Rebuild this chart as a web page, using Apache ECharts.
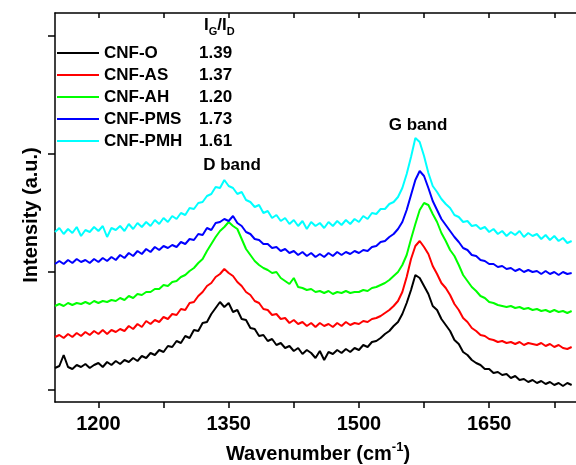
<!DOCTYPE html>
<html>
<head>
<meta charset="utf-8">
<script src="https://cdn.jsdelivr.net/npm/echarts@6/dist/echarts.min.js"></script>
<style>html,body{margin:0;padding:0;background:#fff;}#chart{width:576px;height:465px;}</style>
</head>
<body>
<div id="chart"></div>
<script>
const wavenumber = [
1150,1155,1160,1165,1170,1175,1180,1185,1190,1195,
1200,1205,1210,1215,1220,1225,1230,1235,1240,1245,
1250,1255,1260,1265,1270,1275,1280,1285,1290,1295,
1300,1305,1310,1315,1320,1325,1330,1335,1340,1345,
1350,1355,1360,1365,1370,1375,1380,1385,1390,1395,
1400,1405,1410,1415,1420,1425,1430,1435,1440,1445,
1450,1455,1460,1465,1470,1475,1480,1485,1490,1495,
1500,1505,1510,1515,1520,1525,1530,1535,1540,1545,
1550,1555,1560,1565,1570,1575,1580,1585,1590,1595,
1600,1605,1610,1615,1620,1625,1630,1635,1640,1645,
1650,1655,1660,1665,1670,1675,1680,1685,1690,1695,
1700,1705,1710,1715,1720,1725,1730,1735,1740,1745];

const cnfO = [
34,36,47,35,33,37,35,38,34,37,
39,35,40,37,41,38,42,40,44,41,
46,44,49,47,52,50,56,55,61,59,
66,64,72,71,79,80,88,94,100,95,
99,90,92,83,82,74,73,66,67,61,
63,57,59,54,56,51,54,48,52,49,
44,51,42,50,48,52,49,53,50,54,
52,57,55,60,61,64,68,71,76,80,
88,99,112,127,124,116,108,96,92,83,
77,71,62,58,50,47,42,39,37,33,
33,29,30,27,28,24,26,22,23,20,
22,19,21,18,20,17,19,16,19,17];

const cnfAS = [
65,67,64,68,65,69,66,70,67,71,
68,72,68,72,70,73,71,76,73,78,
75,81,78,82,80,85,83,88,87,93,
92,99,100,106,110,116,119,125,128,133,
129,126,120,116,110,107,101,99,93,92,
87,88,83,84,79,82,78,80,76,79,
75,79,76,78,75,79,76,80,77,79,
78,81,80,83,84,86,89,92,96,101,
110,125,143,156,161,155,148,136,128,119,
114,107,98,92,84,80,74,71,67,66,
63,62,60,61,59,60,58,60,57,59,
58,57,59,56,58,55,57,54,53,55];

const cnfAH = [
96,98,96,99,97,99,98,100,98,101,
99,101,100,102,101,104,102,106,104,108,
107,110,110,113,113,117,116,120,121,125,
127,131,134,139,143,151,158,165,171,175,
180,176,173,163,153,147,141,137,134,132,
129,130,124,121,118,124,115,114,112,113,
110,111,109,111,108,110,109,111,109,110,
110,112,111,114,115,117,119,122,126,130,
137,147,163,178,192,199,197,188,180,169,
161,152,146,137,127,121,115,111,106,104,
100,99,97,96,95,96,94,95,93,94,
92,93,91,92,90,92,90,91,89,91];

const cnfPMS = [
138,141,138,142,139,143,140,142,139,143,
140,144,141,145,142,147,144,149,146,151,
148,153,150,155,152,156,154,157,155,160,
158,163,162,168,167,174,172,179,180,183,
181,186,179,176,170,168,163,162,158,158,
154,155,151,153,149,151,147,150,146,149,
145,148,145,149,146,150,147,150,148,151,
149,152,151,155,156,160,161,165,168,173,
180,192,207,222,231,226,214,201,192,183,
177,171,165,160,154,152,147,146,142,141,
138,138,135,136,133,134,131,133,130,132,
130,131,128,131,128,130,127,130,128,129];

const cnfPMH = [
170,174,168,173,169,175,166,172,170,175,
171,176,165,174,172,176,171,178,173,179,
175,180,176,182,178,184,180,186,183,189,
187,194,193,199,200,206,208,215,214,222,
216,214,208,210,202,200,195,197,189,191,
184,187,181,184,178,182,176,181,173,180,
176,179,174,180,176,181,177,182,178,183,
180,186,183,189,188,193,193,198,200,205,
214,228,245,264,260,246,229,216,210,203,
198,194,187,185,180,181,176,177,173,175,
170,173,168,171,166,170,167,171,165,169,
166,168,163,167,162,166,161,164,159,161];

const seriesNames = ['CNF-O','CNF-AS','CNF-AH','CNF-PMS','CNF-PMH'];
const ratioIGID = ['1.39','1.37','1.20','1.73','1.61'];
const seriesColors = ['#000000','#ff0000','#00ff00','#0000ff','#00ffff'];
const seriesValues = [cnfO, cnfAS, cnfAH, cnfPMS, cnfPMH];
const xTickValues = [1200,1275,1350,1425,1500,1575,1650,1725];
const xLabelValues = [1200,1350,1500,1650];
const yTickValues = [12,130,248,366];

const FONT = 'Liberation Sans, Arial, Helvetica, sans-serif';

const chart = echarts.init(document.getElementById('chart'), null, {renderer:'canvas'});

const series = seriesValues.map((vals, i) => ({
  name: seriesNames[i],
  type: 'line',
  xAxisIndex: 0,
  yAxisIndex: 0,
  showSymbol: false,
  symbol: 'none',
  data: wavenumber.map((w, k) => [w, vals[k]]),
  lineStyle: {color: seriesColors[i], width: 2},
  itemStyle: {color: seriesColors[i]},
  z: 2 + i
}));

const graphics = [];
seriesNames.forEach((n, i) => {
  const y = 53 + 22 * i;
  graphics.push({type:'line', shape:{x1:57, y1:y, x2:99, y2:y}, style:{stroke:seriesColors[i], lineWidth:2}, z:10});
  graphics.push({type:'text', x:104, y:y, style:{text:n, font:'bold 17px ' + FONT, fill:'#000', verticalAlign:'middle', align:'left'}, z:10});
  graphics.push({type:'text', x:199, y:y, style:{text:ratioIGID[i], font:'bold 17px ' + FONT, fill:'#000', verticalAlign:'middle', align:'left'}, z:10});
});
graphics.push({type:'text', x:204, y:25, style:{
  text:'{m|I}{s|G}{m|/I}{s|D}', verticalAlign:'middle', align:'left',
  rich:{
    m:{fontSize:17, fontWeight:'bold', fontFamily:FONT, lineHeight:24, fill:'#000'},
    s:{fontSize:11, fontWeight:'bold', fontFamily:FONT, verticalAlign:'bottom', lineHeight:24, fill:'#000'}
  }}, z:10});
graphics.push({type:'text', x:232, y:165, style:{text:'D band', font:'bold 17px ' + FONT, fill:'#000', align:'center', verticalAlign:'middle'}, z:10});
graphics.push({type:'text', x:418, y:125, style:{text:'G band', font:'bold 17px ' + FONT, fill:'#000', align:'center', verticalAlign:'middle'}, z:10});
graphics.push({type:'text', x:318, y:454, style:{
  text:'{a|Wavenumber (cm}{b|-1}{a|)}', align:'center', verticalAlign:'middle',
  rich:{
    a:{fontSize:20, fontWeight:'bold', fontFamily:FONT, lineHeight:26, fill:'#000'},
    b:{fontSize:13, fontWeight:'bold', fontFamily:FONT, verticalAlign:'top', lineHeight:26, fill:'#000'}
  }}, z:10});
graphics.push({type:'text', x:31, y:215, rotation:Math.PI/2, style:{text:'Intensity (a.u.)', font:'bold 20px ' + FONT, fill:'#000', align:'center', verticalAlign:'middle'}, z:10});

const option = {
  animation: false,
  backgroundColor: '#fff',
  grid: {left:55, right:-5, top:13, bottom:63, containLabel:false},
  xAxis: [{
    type:'value', position:'bottom', min:1150, max:1750,
    axisLine:{show:true, onZero:false, lineStyle:{color:'#000', width:1.5}},
    axisTick:{show:true, inside:false, length:6, customValues:xTickValues, lineStyle:{color:'#000', width:1.5}},
    axisLabel:{show:true, customValues:xLabelValues, formatter:(v) => String(v), margin:12, color:'#000', fontSize:20, fontWeight:'bold', fontFamily:FONT},
    splitLine:{show:false}
  },{
    type:'value', position:'top', min:1150, max:1750,
    axisLine:{show:true, onZero:false, lineStyle:{color:'#000', width:1.5}},
    axisTick:{show:true, inside:true, length:5, customValues:xTickValues, lineStyle:{color:'#000', width:1.5}},
    axisLabel:{show:false},
    splitLine:{show:false}
  }],
  yAxis: [{
    type:'value', position:'left', min:0, max:389,
    axisLine:{show:true, onZero:false, lineStyle:{color:'#000', width:1.5}},
    axisTick:{show:true, inside:false, length:7, customValues:yTickValues, lineStyle:{color:'#000', width:1.5}},
    axisLabel:{show:false},
    splitLine:{show:false}
  }],
  series: series,
  graphic: graphics
};
chart.setOption(option);
</script>
</body>
</html>
